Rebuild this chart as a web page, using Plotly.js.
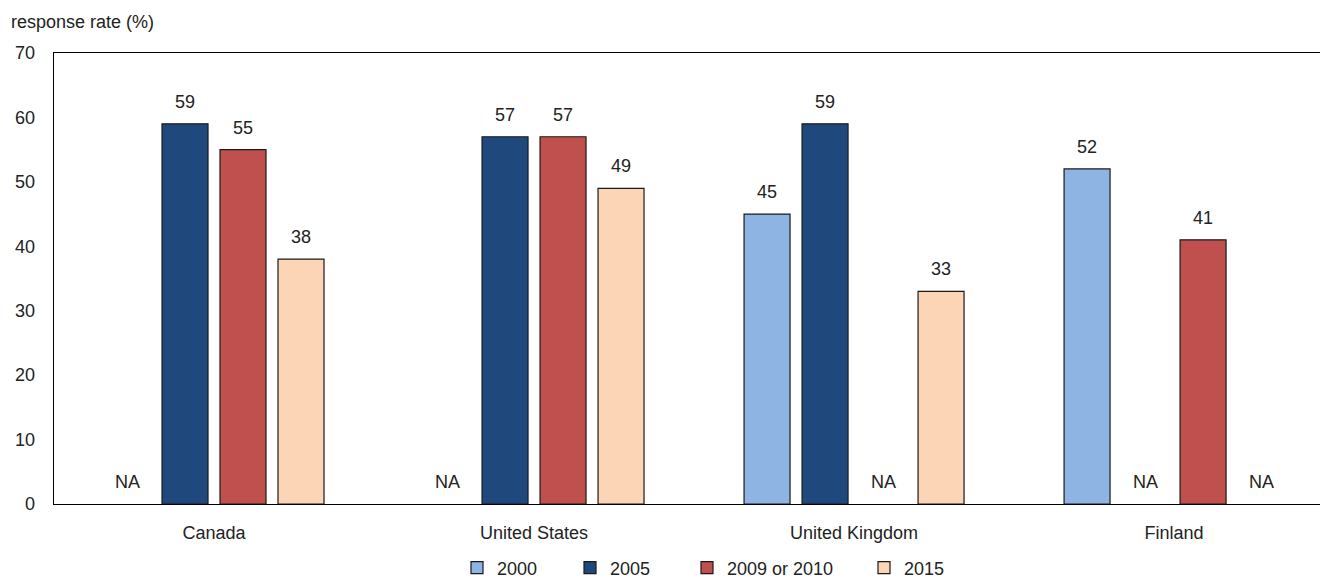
<!DOCTYPE html>
<html>
<head>
<meta charset="utf-8">
<script src="https://cdn.plot.ly/plotly-3.0.1.min.js"></script>
<style>
  html, body { margin: 0; padding: 0; background: #fff; }
  #chart { width: 1320px; height: 580px; }
</style>
</head>
<body>
<div id="chart"></div>
<script>
// Survey response rates by country and survey year
const countries = ["Canada", "United States", "United Kingdom", "Finland"];
const years = ["2000", "2005", "2009 or 2010", "2015"];
const rate2000 = [null, null, 45, 52];
const rate2005 = [59, 57, 59, null];
const rate2010 = [55, 57, null, 41];
const rate2015 = [38, 49, 33, null];
const seriesValues = [rate2000, rate2005, rate2010, rate2015];
const seriesColors = ["#8EB4E3", "#1F497D", "#C0504D", "#FBD5B5"];

const FONT = "'Liberation Sans', Arial, sans-serif";
const TEXT_COLOR = "#222222";
const FS = 18;
const BARGAP = 0.275;
const NSERIES = years.length;
const slot = (1 - BARGAP) / NSERIES;

// each series gets its own legend box so the key entries can be spaced freely
const legendIds = ["legend", "legend2", "legend3", "legend4"];
const legendLeft = [457, 570, 687, 864];

const xpos = countries.map((_, i) => i);

const traces = years.map((yr, j) => ({
  type: "bar",
  name: yr,
  x: xpos,
  y: seriesValues[j],
  legend: legendIds[j],
  marker: { color: seriesColors[j], line: { color: "#1a1a1a", width: 1.2 } },
  hoverinfo: "skip"
}));

// value labels above bars, "NA" on the baseline where no survey exists
const annotations = [];
seriesValues.forEach((vals, j) => {
  vals.forEach((v, i) => {
    annotations.push({
      xref: "x", yref: "y",
      x: i + (j - (NSERIES - 1) / 2) * slot,
      y: v === null ? 0 : v,
      text: v === null ? "NA" : String(v),
      showarrow: false,
      yanchor: "middle",
      yshift: 22,
      font: { family: FONT, size: FS, color: TEXT_COLOR }
    });
  });
});

annotations.push({
  xref: "paper", yref: "paper",
  x: -54 / 1266, y: 1 + 31 / 451,
  xanchor: "left", yanchor: "middle",
  text: "response rate (%)",
  showarrow: false,
  xshift: 9,
  font: { family: FONT, size: FS, color: TEXT_COLOR }
});

const layout = {
  width: 1320,
  height: 580,
  margin: { l: 54, r: 0, t: 53, b: 76, pad: 0 },
  paper_bgcolor: "#ffffff",
  plot_bgcolor: "#ffffff",
  font: { family: FONT, size: FS, color: TEXT_COLOR },
  barmode: "group",
  bargap: BARGAP,
  bargroupgap: 0.207,
  showlegend: true,
  xaxis: {
    range: [-0.5, 3.456],
    tickvals: xpos,
    ticktext: countries,
    showgrid: false,
    zeroline: false,
    showline: true,
    linecolor: "#000",
    linewidth: 1.3,
    mirror: true,
    ticks: "",
    ticklabelstandoff: 12,
    fixedrange: true
  },
  yaxis: {
    range: [0, 70],
    tickvals: [0, 10, 20, 30, 40, 50, 60, 70],
    showgrid: false,
    zeroline: false,
    showline: true,
    linecolor: "#000",
    linewidth: 1.3,
    mirror: false,
    ticks: "",
    ticklabelstandoff: 14,
    fixedrange: true
  },
  annotations: annotations
};

legendIds.forEach((id, j) => {
  layout[id] = {
    orientation: "h",
    xref: "container", yref: "container",
    x: legendLeft[j] / 1320, xanchor: "left",
    y: 12 / 580, yanchor: "middle",
    bgcolor: "rgba(0,0,0,0)",
    font: { family: FONT, size: FS, color: TEXT_COLOR },
    itemwidth: 30
  };
});

Plotly.newPlot("chart", traces, layout, { displayModeBar: false, staticPlot: true });
</script>
</body>
</html>
